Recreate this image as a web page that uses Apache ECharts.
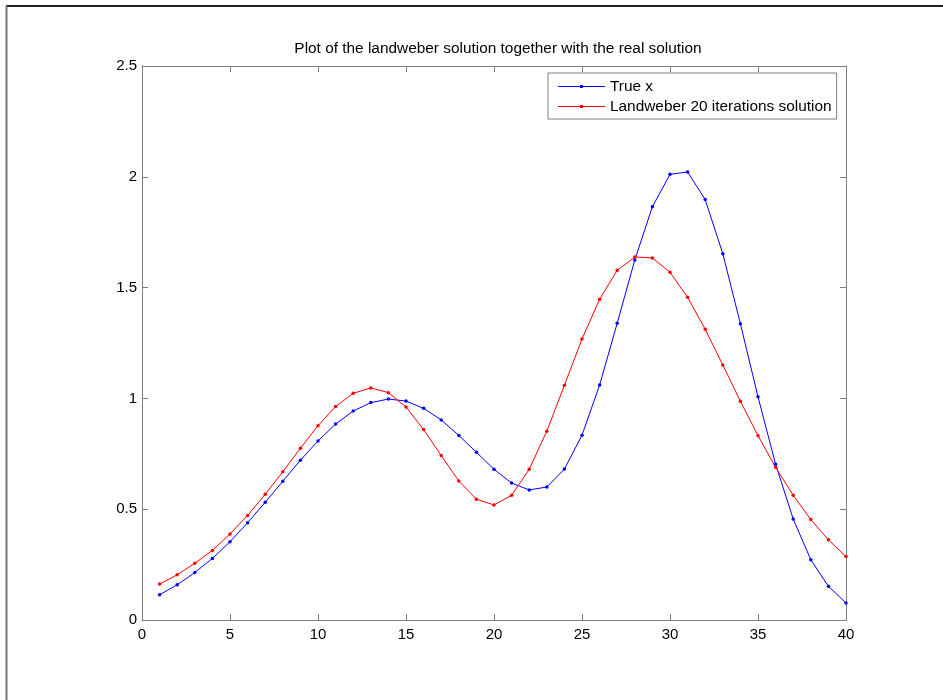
<!DOCTYPE html>
<html>
<head>
<meta charset="utf-8">
<script src="https://cdn.jsdelivr.net/npm/echarts@6/dist/echarts.min.js"></script>
<style>html,body{margin:0;padding:0;background:#fff;}#c{width:943px;height:700px;}</style>
</head>
<body>
<div id="c"></div>
<script>
const xValues = [1,2,3,4,5,6,7,8,9,10,11,12,13,14,15,16,17,18,19,20,21,22,23,24,25,26,27,28,29,30,31,32,33,34,35,36,37,38,39,40];
const trueX = [0.114,0.159,0.214,0.278,0.353,0.439,0.531,0.626,0.721,0.808,0.884,0.943,0.981,0.997,0.988,0.955,0.903,0.833,0.757,0.680,0.618,0.587,0.600,0.681,0.834,1.060,1.339,1.625,1.865,2.011,2.022,1.897,1.653,1.337,1.007,0.703,0.456,0.272,0.152,0.077];
const landweber = [0.162,0.204,0.256,0.314,0.388,0.472,0.567,0.669,0.775,0.877,0.963,1.023,1.047,1.026,0.961,0.860,0.742,0.627,0.545,0.519,0.563,0.680,0.852,1.059,1.268,1.447,1.578,1.638,1.634,1.569,1.456,1.312,1.151,0.987,0.832,0.689,0.563,0.453,0.362,0.286];
const seriesNames = ['True x','Landweber 20 iterations solution'];
const titleText = 'Plot of the landweber solution together with the real solution';

const font = 'Liberation Sans, Arial, sans-serif';
const axisGray = '#7f7f7f';
const chart = echarts.init(document.getElementById('c'), null, {renderer:'canvas'});
const mk = (arr) => xValues.map((x,i)=>[x,arr[i]]);
const legendIcon = 'path://M0,1 H47 V2 H0 Z M22,0 H25 V3 H22 Z';
const baseAxis = {
  axisLine:{show:true,onZero:false,lineStyle:{color:axisGray,width:1}},
  axisTick:{show:true,inside:true,length:6,lineStyle:{color:axisGray}},
  splitLine:{show:false},
  axisLabel:{color:'#000',fontFamily:font,fontSize:15}
};
chart.setOption({
  animation:false,
  backgroundColor:'#fff',
  title:{text:titleText,left:493,textAlign:'center',top:36,textStyle:{fontFamily:font,fontSize:15.4,fontWeight:'normal',color:'#000'}},
  grid:{left:142,right:97,top:66,bottom:80},
  legend:{
    orient:'vertical',left:548,top:73,
    padding:[6,5,5,10],itemGap:5,itemWidth:47,itemHeight:14,
    borderColor:axisGray,borderWidth:1,backgroundColor:'#fff',
    textStyle:{fontFamily:font,fontSize:15.4,color:'#000'},
    data:seriesNames.map(n=>({name:n,icon:legendIcon}))
  },
  xAxis:[
    Object.assign({},baseAxis,{type:'value',min:0,max:40,interval:5,position:'bottom',axisLabel:Object.assign({},baseAxis.axisLabel,{margin:7})}),
    Object.assign({},baseAxis,{type:'value',min:0,max:40,interval:5,position:'top',axisLabel:{show:false}})
  ],
  yAxis:[
    Object.assign({},baseAxis,{type:'value',min:0,max:2.5,interval:0.5,position:'left',axisLabel:Object.assign({},baseAxis.axisLabel,{margin:5})}),
    Object.assign({},baseAxis,{type:'value',min:0,max:2.5,interval:0.5,position:'right',axisLabel:{show:false}})
  ],
  graphic:[
    {type:'line',shape:{x1:6,y1:6,x2:943,y2:6},style:{stroke:'#222',lineWidth:2},z:100},
    {type:'line',shape:{x1:6.5,y1:6,x2:6.5,y2:700},style:{stroke:'#777',lineWidth:2},z:100}
  ],
  series:[
    {name:seriesNames[0],type:'line',data:mk(trueX),symbol:'circle',symbolSize:3.5,showSymbol:true,
     lineStyle:{color:'#0000ff',width:1},itemStyle:{color:'#0000ff'}},
    {name:seriesNames[1],type:'line',data:mk(landweber),symbol:'circle',symbolSize:3.5,showSymbol:true,
     lineStyle:{color:'#ff0000',width:1},itemStyle:{color:'#ff0000'}}
  ]
});
</script>
</body>
</html>
